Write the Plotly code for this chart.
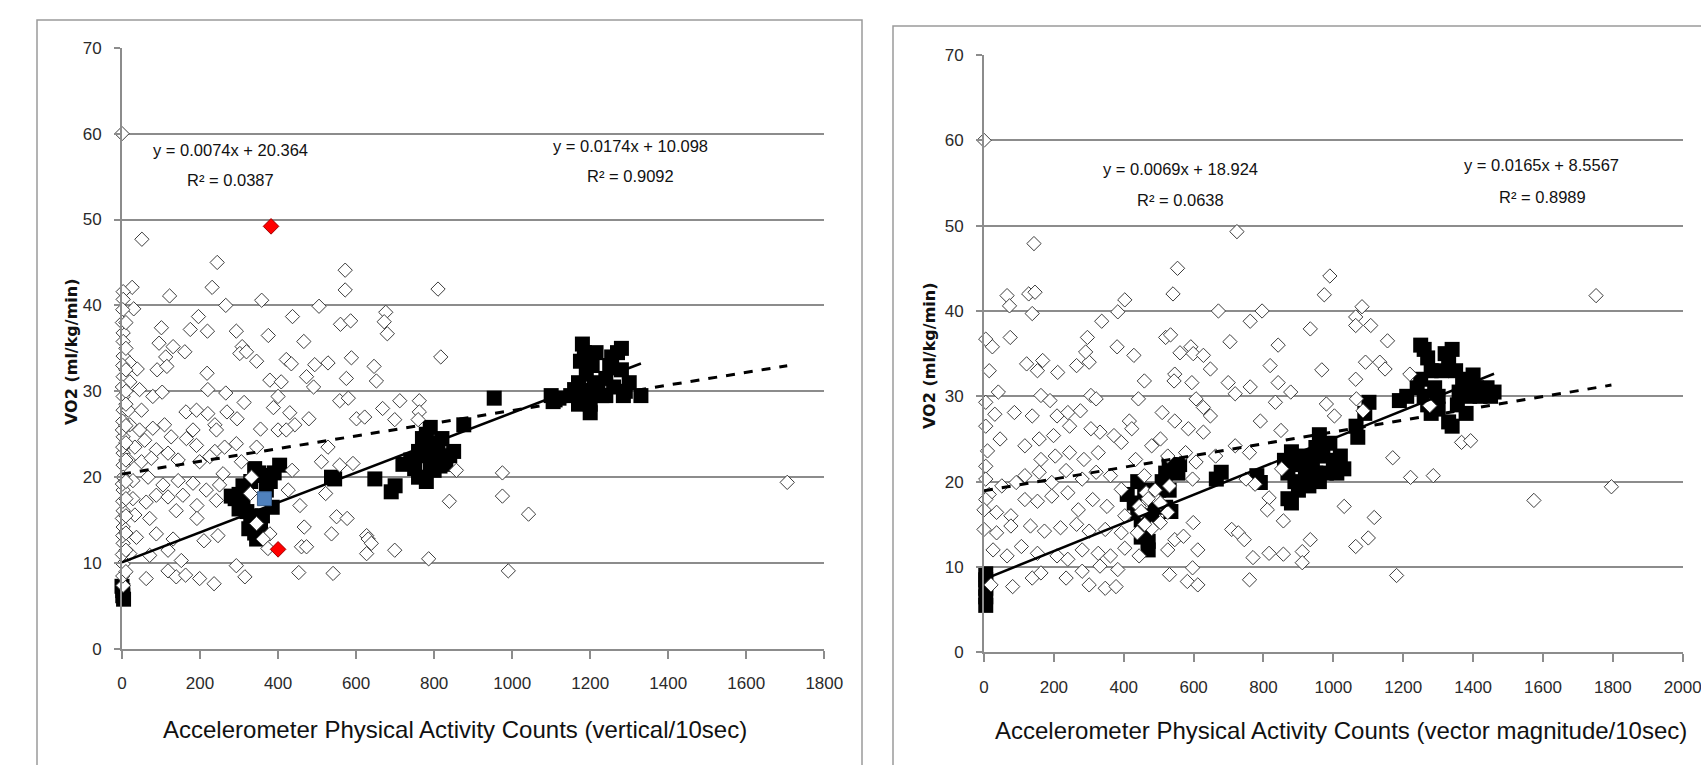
import plotly.graph_objects as go

W, H = 1701, 765

# ---------------- Left panel: vertical counts ----------------
LX_D = [0, 51, 244, 572, 572, 810, 26, 3, 122, 231, 3, 30, 266, 358, 505, 437, 196, 560, 586, 676,
        672, 680, 3, 101, 175, 219, 293, 375, 466, 3, 95, 131, 161, 308, 302, 319, 3, 112, 345, 421,
        434, 494, 528, 588, 817, 646, 652, 20, 39, 90, 115, 218, 379, 408, 473, 491, 575, 3, 20, 45,
        79, 103, 220, 266, 313, 400, 558, 580, 668, 712, 762, 762, 3, 3, 16, 50, 164, 191, 220, 238,
        269, 295, 388, 430, 443, 479, 601, 622, 699, 759, 20, 45, 79, 109, 126, 182, 242, 355, 400, 421,
        3, 33, 58, 88, 118, 165, 191, 238, 263, 293, 345, 528, 3, 16, 50, 75, 144, 199, 225, 259,
        306, 436, 511, 592, 558, 857, 975, 3, 3, 28, 67, 105, 144, 182, 216, 250, 3, 28, 62, 88,
        118, 156, 192, 242, 426, 522, 975, 839, 332, 329, 3, 33, 71, 139, 192, 456, 1042, 3, 37, 88,
        131, 210, 246, 345, 379, 467, 550, 577, 537, 627, 631, 639, 3, 20, 71, 118, 152, 362, 374, 460,
        473, 627, 699, 786, 3, 62, 118, 139, 163, 199, 236, 293, 315, 453, 541, 990, 3, 1705,
        2, 1, 2, 1, 2, 1, 2, 1, 2, 1, 2, 1, 2,
        10, 10, 10, 10, 10, 10, 10, 10, 10, 10, 10, 10, 10, 10]
LY_D = [60, 47.7, 45.0, 44.1, 41.8, 41.9, 42.1, 41.6, 41.1, 42.1, 40.7, 39.6, 40.0, 40.6, 39.9, 38.7, 38.7, 37.8, 38.2, 39.2,
        38.1, 36.7, 36.8, 37.4, 37.2, 37.0, 37.0, 36.5, 35.8, 35.8, 35.6, 35.2, 34.6, 35.2, 34.4, 34.6, 34.1, 34.0, 33.5, 33.7,
        33.2, 33.1, 33.3, 33.9, 34.0, 32.9, 31.2, 33.3, 32.6, 32.5, 32.9, 32.1, 31.3, 31.1, 31.7, 30.5, 31.5, 31.7, 31.1, 30.2,
        29.4, 29.9, 30.2, 29.8, 28.7, 29.4, 28.9, 29.2, 28.0, 28.9, 28.9, 27.6, 29.4, 27.8, 27.8, 27.8, 27.6, 27.8, 27.4, 26.1,
        27.6, 26.8, 28.1, 27.5, 26.1, 26.8, 26.8, 27.0, 26.7, 26.7, 26.1, 25.5, 25.7, 26.1, 24.7, 25.5, 25.5, 25.6, 25.5, 25.5,
        24.7, 23.5, 24.3, 23.2, 22.8, 24.5, 23.7, 23.0, 23.5, 23.9, 23.5, 23.5, 22.8, 22.0, 21.8, 22.2, 22.0, 21.8, 22.4, 20.4,
        21.8, 20.8, 21.8, 21.6, 21.4, 20.8, 20.5, 21.4, 20.0, 19.6, 20.0, 19.1, 19.6, 19.3, 18.5, 19.1, 18.5, 17.5, 17.1, 17.9,
        17.7, 17.9, 16.7, 17.3, 18.5, 18.1, 17.8, 17.2, 20.0, 18.1, 16.1, 15.6, 15.2, 16.1, 15.2, 16.7, 15.7, 14.2, 13.0, 13.4,
        12.8, 12.6, 13.2, 14.6, 13.4, 14.2, 15.4, 15.2, 13.4, 13.2, 12.8, 12.3, 12.3, 11.1, 10.9, 11.5, 10.3, 12.8, 11.7, 11.9,
        11.9, 11.1, 11.5, 10.5, 9.9, 8.2, 9.1, 8.4, 8.6, 8.2, 7.6, 9.7, 8.4, 8.9, 8.8, 9.1, 7.4, 19.4,
        39.5, 38, 33, 30.5, 26.5, 25.5, 23.5, 19.2, 17.2, 15.2, 13.2, 11, 8.5,
        38, 35, 32.5, 30, 28.5, 26, 24, 22, 19.5, 17.5, 15.5, 13.5, 11.5, 9]

LX_S = [2, 2, 4, 0,
        300, 310, 290, 320, 330, 325, 340, 345, 330, 350, 340, 365, 380, 370, 385, 310, 300, 280, 355, 360, 404, 390,
        537, 545, 648, 690, 700,
        720, 740, 760, 770, 780, 790, 800, 810, 820, 830, 760, 780, 790, 800, 750, 770, 820, 840, 785, 800, 815, 850,
        876, 954,
        1100, 1110, 1105, 1120, 1150, 1160, 1170, 1175, 1180, 1185, 1190, 1195, 1200, 1200, 1205, 1210, 1215, 1220, 1230, 1240,
        1250, 1255, 1260, 1270, 1280, 1280, 1285, 1290, 1300, 1330, 1190, 1240, 1170]
LY_S = [6.2, 6.8, 5.8, 7.3,
        18.0, 17.0, 17.5, 16, 15.5, 14, 13.5, 12.8, 19.5, 20.5, 21, 20.2, 19.5, 18.5, 16.5, 19, 16.3, 17.8, 14.5, 15.5, 21.4, 20.5,
        20.0, 19.8, 19.8, 18.3, 19.0,
        21.5, 22, 23, 24.5, 25, 25.8, 24, 23, 22, 21.5, 20, 19.5, 21, 22.5, 21, 22.5, 24.5, 22.5, 23.5, 20.8, 21.3, 23,
        26.1, 29.2,
        29.5, 29, 28.8, 29.2, 29.5, 30.2, 31, 33.5, 35.5, 34.5, 32, 30, 28.5, 27.5, 33, 31, 34.5, 30, 29.5, 31.5,
        33, 34, 30.5, 34.5, 35, 32.5, 29.5, 30, 31, 29.5, 29.2, 29.5, 28.5]

L_RED_X = [382, 400]
L_RED_Y = [49.2, 11.6]
L_BLUE_X = [365]
L_BLUE_Y = [17.5]

L_FIT_DIAMOND = (0.0074, 20.364)
L_FIT_SQUARE = (0.0174, 10.098)
L_TEXT = ["y = 0.0074x + 20.364", "R² = 0.0387", "y = 0.0174x + 10.098", "R² = 0.9092"]

# ---------------- Right panel: vector magnitude ----------------
RX_D = [143, 724, 554, 990, 974, 541, 66, 128, 146, 73,
        138, 403, 383, 337, 671, 796, 762, 1082, 1064, 1064,
        1107, 934, 5, 24, 75, 296, 381, 520, 534, 704,
        842, 1155, 15, 122, 168, 153, 211, 265, 301, 291,
        429, 561, 592, 599, 628, 648, 546, 459, 819, 967,
        1092, 1133, 1148, 1064, 1219, 41, 5, 31, 5, 46,
        10, 87, 138, 163, 189, 209, 240, 276, 306, 321,
        442, 544, 595, 699, 719, 762, 842, 878, 834, 607,
        628, 648, 510, 546, 585, 628, 980, 1003, 1066, 1085,
        791, 850, 416, 423, 372, 332, 306, 245, 199, 158,
        117, 163, 204, 245, 286, 327, 393, 434, 480, 505,
        526, 577, 607, 663, 719, 760, 5, 5, 15, 51,
        92, 117, 158, 194, 235, 281, 321, 362, 393, 459,
        531, 597, 750, 776, 816, 811, 852, 1170, 1221, 1286,
        1367, 1393, 1276, 5, 0, 36, 77, 117, 153, 194,
        240, 270, 311, 352, 403, 444, 464, 495, 526, 0,
        36, 77, 133, 173, 219, 265, 301, 347, 393, 439,
        505, 599, 709, 728, 745, 857, 1031, 1117, 1100, 1064,
        934, 911, 911, 857, 816, 770, 26, 66, 107, 153,
        209, 240, 281, 327, 362, 403, 444, 526, 546, 571,
        612, 20, 82, 138, 163, 235, 281, 301, 332, 347,
        378, 383, 531, 582, 597, 612, 760, 1181, 1574, 1796,
        1752, 0, 470, 490, 450, 505, 480, 460]
RY_D = [47.9, 49.3, 45.0, 44.1, 41.9, 42.0, 41.8, 42.0, 42.2, 40.6,
        39.7, 41.3, 39.9, 38.8, 40.0, 40.0, 38.8, 40.5, 39.3, 38.3,
        38.3, 37.9, 36.7, 35.8, 36.9, 36.9, 35.8, 36.9, 37.2, 36.4,
        36.0, 36.5, 33.0, 33.8, 34.2, 33.0, 32.8, 33.6, 34.0, 35.2,
        34.8, 35.1, 35.8, 35.0, 34.8, 33.2, 32.6, 31.8, 33.6, 33.1,
        34.0, 34.0, 33.2, 32.0, 32.6, 30.5, 29.3, 27.9, 26.5, 25.0,
        23.6, 28.1, 27.7, 30.1, 29.5, 27.7, 28.1, 28.3, 30.1, 29.7,
        29.7, 31.8, 31.6, 31.6, 30.3, 31.1, 31.6, 30.5, 29.3, 29.7,
        28.7, 27.7, 28.1, 27.1, 26.2, 25.8, 29.1, 27.7, 29.7, 28.3,
        27.1, 26.0, 27.1, 26.2, 25.4, 25.8, 26.2, 26.5, 25.4, 25.0,
        24.2, 22.6, 23.0, 23.4, 22.6, 23.4, 24.6, 22.6, 24.2, 25.0,
        23.0, 23.4, 22.3, 23.0, 24.2, 23.4, 21.8, 20.3, 18.5, 19.5,
        19.9, 20.7, 21.1, 19.9, 21.3, 20.3, 21.1, 20.7, 19.1, 20.7,
        19.5, 20.3, 20.3, 19.7, 18.1, 16.7, 21.5, 22.8, 20.5, 20.7,
        24.6, 24.8, 28.9, 17.9, 16.7, 16.4, 16.0, 17.9, 17.7, 18.3,
        18.7, 16.7, 17.9, 17.1, 16.0, 17.1, 18.7, 17.9, 16.4, 14.4,
        14.0, 14.8, 14.8, 14.2, 14.6, 15.0, 14.2, 14.4, 14.0, 14.0,
        15.2, 15.2, 14.4, 14.0, 13.2, 15.4, 17.1, 15.8, 13.4, 12.4,
        13.2, 11.8, 10.5, 11.5, 11.6, 11.1, 12.0, 11.3, 12.4, 11.6,
        11.3, 10.9, 12.0, 11.6, 11.3, 12.2, 11.3, 12.0, 13.2, 13.6,
        12.0, 7.9, 7.7, 8.7, 9.3, 8.7, 9.5, 7.9, 10.1, 7.5,
        7.7, 9.7, 9.1, 8.3, 9.9, 7.9, 8.5, 9.0, 17.8, 19.4,
        41.8, 60, 18, 19, 16.5, 17.5, 14.5, 15]

RX_S = [5, 5, 5, 5, 5,
        410, 430, 440, 450, 460, 470, 470, 480, 490, 500, 510, 520, 530, 545, 535, 520, 440, 460, 450, 530, 555, 560,
        665, 679, 791, 781,
        860, 870, 870, 880, 890, 900, 910, 920, 930, 940, 950, 960, 970, 980, 990, 1000, 1010, 1020, 1030, 960, 900, 880, 950,
        1065, 1070, 1102, 1090, 1189, 1210,
        1250, 1260, 1270, 1280, 1250, 1240, 1260, 1270, 1280, 1300, 1310, 1320, 1330, 1340, 1350, 1360, 1330, 1340, 1370, 1380,
        1390, 1400, 1410, 1420, 1430, 1440, 1450, 1460, 1380, 1290, 1300, 1355]
RY_S = [5.5, 6.5, 7.5, 8.5, 9.2,
        18.5, 17.5, 16.5, 15.5, 14.5, 13, 12, 16, 17.5, 19, 20, 21, 22, 21.5, 16.5, 17, 20, 19, 13.5, 19, 21, 22,
        20.3, 21.1, 19.9, 20.7,
        22.5, 21, 18, 17.5, 20, 22, 23, 21, 19.5, 22.5, 24, 25.5, 23, 21, 24.5, 22.5, 21, 23, 21.5, 20, 19, 23.5, 21,
        26.5, 25.2, 29.3, 28, 29.5, 30,
        36, 35.5, 34.5, 33, 32, 31, 30, 29, 28, 30, 33, 35, 34.5, 35.5, 33, 30.5, 27, 26.5, 32, 31,
        30, 32.5, 31, 30, 30.5, 31, 30, 30.5, 28, 31, 28.5, 29]

R_FIT_DIAMOND = (0.0069, 18.924)
R_FIT_SQUARE = (0.0165, 8.5567)
R_TEXT = ["y = 0.0069x + 18.924", "R² = 0.0638", "y = 0.0165x + 8.5567", "R² = 0.8989"]

X_TITLES = ["Accelerometer Physical Activity Counts (vertical/10sec)",
            "Accelerometer Physical Activity Counts (vector magnitude/10sec)"]
Y_TITLE = "VO2 (ml/kg/min)"


def px(x):
    return x / W


def py(y):
    return 1 - y / H


SANS = "Liberation Sans, Arial, sans-serif"
GRID = "#8c8c8c"
DIAMOND_LINE = "#3c3c3c"

fig = go.Figure()


def add_panel(xa, ya, dx, dy, sx, sy, fit_d, fit_s):
    fig.add_trace(go.Scatter(x=sx, y=sy, mode="markers", xaxis=xa, yaxis=ya, cliponaxis=False,
                             marker=dict(symbol="square", size=15, color="black", line=dict(width=0)),
                             showlegend=False, hoverinfo="x+y"))
    fig.add_trace(go.Scatter(x=dx, y=dy, mode="markers", xaxis=xa, yaxis=ya, cliponaxis=False,
                             marker=dict(symbol="diamond", size=11, color="white",
                                         line=dict(width=1, color=DIAMOND_LINE)),
                             showlegend=False, hoverinfo="x+y"))
    xd = [0, max(dx)]
    fig.add_trace(go.Scatter(x=xd, y=[fit_d[0] * v + fit_d[1] for v in xd], mode="lines",
                             xaxis=xa, yaxis=ya, line=dict(color="black", width=3, dash="dash"),
                             showlegend=False, hoverinfo="skip"))
    xs = [0, max(sx)]
    fig.add_trace(go.Scatter(x=xs, y=[fit_s[0] * v + fit_s[1] for v in xs], mode="lines",
                             xaxis=xa, yaxis=ya, line=dict(color="black", width=2.5),
                             showlegend=False, hoverinfo="skip"))


add_panel("x", "y", LX_D, LY_D, LX_S, LY_S, L_FIT_DIAMOND, L_FIT_SQUARE)
fig.add_trace(go.Scatter(x=L_BLUE_X, y=L_BLUE_Y, mode="markers", xaxis="x", yaxis="y",
                         marker=dict(symbol="square", size=14, color="#4f81bd", line=dict(width=1, color="#385d8a")),
                         showlegend=False))
fig.add_trace(go.Scatter(x=L_RED_X, y=L_RED_Y, mode="markers", xaxis="x", yaxis="y",
                         marker=dict(symbol="diamond", size=12, color="#ff0000", line=dict(width=1, color="#a00000")),
                         showlegend=False))
add_panel("x2", "y2", RX_D, RY_D, RX_S, RY_S, R_FIT_DIAMOND, R_FIT_SQUARE)

tickfont = dict(family=SANS, size=17, color="#2a2a2a")


def xaxis_cfg(domain, rng, anchor):
    return dict(domain=domain, range=rng, anchor=anchor, dtick=200, tick0=0, showgrid=False, zeroline=False,
                showline=True, linecolor=GRID, linewidth=2, ticks="outside", ticklen=8, tickwidth=2,
                tickcolor=GRID, tickfont=tickfont, ticklabelstandoff=10, ticklabeloverflow="allow",
                fixedrange=True, automargin=False)


def yaxis_cfg(domain, anchor):
    return dict(domain=domain, range=[0, 70], anchor=anchor, dtick=10, tick0=0, showgrid=True, gridcolor=GRID,
                gridwidth=2, zeroline=False, showline=True, linecolor=GRID, linewidth=2, ticks="outside",
                ticklen=6, tickwidth=2, tickcolor=GRID, tickfont=tickfont, ticklabelstandoff=9, fixedrange=True,
                automargin=False)


annotations = []


def txt(x, y, s, size=16.5, family=SANS, angle=0, bold=False):
    annotations.append(dict(x=px(x), y=py(y), xref="paper", yref="paper", text=("<b>%s</b>" % s) if bold else s,
                            showarrow=False, xanchor="center", yanchor="middle", textangle=angle,
                            font=dict(family=family, size=size, color="#111")))


txt(230, 150, L_TEXT[0]); txt(230, 180, L_TEXT[1])
txt(630, 146, L_TEXT[2]); txt(630, 176, L_TEXT[3])
txt(1180, 169, R_TEXT[0]); txt(1180, 200, R_TEXT[1])
txt(1541, 165, R_TEXT[2]); txt(1542, 197, R_TEXT[3])
txt(455, 729, X_TITLES[0], size=24)
txt(1341, 730, X_TITLES[1], size=24)
txt(72, 352, Y_TITLE, size=16, family="DejaVu Sans, Verdana, sans-serif", angle=-90, bold=True)
txt(929, 356, Y_TITLE, size=16, family="DejaVu Sans, Verdana, sans-serif", angle=-90, bold=True)

shapes = [
    dict(type="rect", xref="paper", yref="paper", x0=px(37), x1=px(862), y0=-0.1, y1=py(20),
         line=dict(color="#9a9a9a", width=1.5), fillcolor="rgba(0,0,0,0)", layer="below"),
    dict(type="rect", xref="paper", yref="paper", x0=px(893), x1=1.1, y0=-0.1, y1=py(26),
         line=dict(color="#9a9a9a", width=1.5), fillcolor="rgba(0,0,0,0)", layer="below"),
]

fig.update_layout(
    width=W, height=H, autosize=False,
    margin=dict(l=0, r=0, t=0, b=0, pad=0),
    paper_bgcolor="white", plot_bgcolor="white",
    showlegend=False,
    xaxis=xaxis_cfg([px(122), px(824.3)], [0, 1800], "y"),
    yaxis=yaxis_cfg([py(649), py(47.7)], "x"),
    xaxis2=xaxis_cfg([px(984), px(1682.7)], [0, 2000], "y2"),
    yaxis2=yaxis_cfg([py(652.3), py(55)], "x2"),
    annotations=annotations,
    shapes=shapes,
)

fig.write_html("out.html",
               post_script="document.body.style.margin='0';document.documentElement.style.overflow='hidden';")
